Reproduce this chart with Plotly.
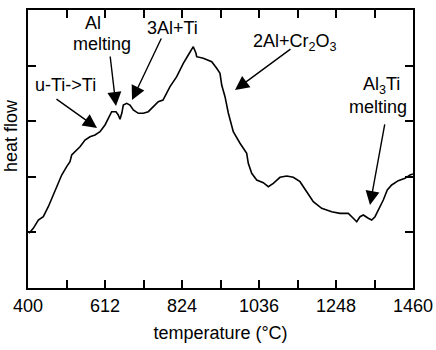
import plotly.graph_objects as go

temperature = [402.8, 414.6, 428.4, 442.1, 455.9, 465.3, 479.0, 492.8, 506.5, 515.6, 520.3, 529.4,
               543.2, 556.9, 570.7, 584.5, 598.2, 612.0, 625.8, 630.4, 642.3, 648.6, 653.3, 658.4,
               662.4, 671.7, 680.8, 689.9, 703.7, 717.4, 731.2, 745.0, 758.7, 771.7, 791.0, 809.4,
               827.6, 841.3, 855.1, 862.5, 864.4, 882.6, 896.4, 905.8, 919.5, 928.6, 933.3, 942.4,
               951.5, 965.2, 983.7, 1002.1, 1006.5, 1015.9, 1029.7, 1047.8, 1061.6, 1075.4, 1093.8,
               1112.3, 1130.4, 1148.9, 1167.3, 1185.5, 1208.6, 1236.1, 1259.0, 1281.8, 1295.6,
               1305.0, 1314.1, 1323.2, 1336.9, 1346.3, 1355.4, 1364.5, 1378.2, 1389.2, 1401.3,
               1419.5, 1437.9, 1451.7, 1460.0]
heat_flow = [0.984, 1.074, 1.223, 1.282, 1.462, 1.613, 1.822, 2.032, 2.182, 2.272, 2.392, 2.451,
             2.541, 2.662, 2.721, 2.752, 2.811, 2.932, 3.112, 3.171, 3.171, 3.112, 3.034, 3.147,
             3.291, 3.322, 3.291, 3.201, 3.142, 3.142, 3.171, 3.261, 3.351, 3.381, 3.621, 3.800,
             4.041, 4.191, 4.340, 4.221, 4.160, 4.131, 4.101, 4.070, 3.951, 3.862, 3.651, 3.441,
             3.147, 2.811, 2.603, 2.423, 2.243, 2.063, 1.942, 1.894, 1.822, 1.883, 1.991,
             2.014, 1.991, 1.912, 1.732, 1.552, 1.433, 1.372, 1.343, 1.343, 1.254,
             1.192, 1.282, 1.313, 1.254, 1.223, 1.282, 1.403, 1.583, 1.763, 1.853,
             1.930, 1.973, 2.032, 2.050]

x_tickvals = [400, 506, 612, 718, 824, 930, 1036, 1142, 1248, 1354, 1460]
x_ticktext = ["400", "", "612", "", "824", "", "1036", "", "1248", "", "1460"]
y_tickvals = [1, 2, 3, 4]

# arrows: (head_x, head_y, tail_x, tail_y)
arrows = [
    (590.0, 2.878, 474.3, 3.417),
    (642.3, 3.273, 625.8, 4.191),
    (686.3, 3.381, 768.9, 4.514),
    (969.9, 3.561, 1126.8, 4.317),
    (1341.6, 1.493, 1382.9, 2.968),
]
labels = [
    ("u-Ti->Ti", 501.9, 3.651),
    ("Al", 577.6, 4.775),
    ("melting", 602.4, 4.390),
    ("3Al+Ti", 797.8, 4.676),
    ("2Al+Cr<sub>2</sub>O<sub>3</sub>", 1135.1, 4.424),
    ("Al<sub>3</sub>Ti", 1371.9, 3.651),
    ("melting", 1363.6, 3.255),
]

FONT = "Liberation Sans, Arial, Helvetica, sans-serif"
FS = 18

fig = go.Figure()
fig.add_trace(go.Scatter(x=temperature, y=heat_flow, mode="lines",
                         line=dict(color="black", width=1.6), showlegend=False,
                         hoverinfo="skip"))

annotations = []
for hx, hy, tx, ty in arrows:
    annotations.append(dict(x=hx, y=hy, ax=tx, ay=ty, xref="x", yref="y",
                            axref="x", ayref="y", text="", showarrow=True,
                            arrowhead=2, arrowsize=2, arrowwidth=1.4,
                            arrowcolor="black", standoff=0, startstandoff=0))
for txt, lx, ly in labels:
    annotations.append(dict(x=lx, y=ly, xref="x", yref="y", text=txt,
                            showarrow=False, font=dict(family=FONT, size=FS, color="black"),
                            xanchor="center", yanchor="middle", borderpad=0))
annotations.append(dict(x=-0.044, y=0.547, xref="paper", yref="paper",
                        text="heat flow", textangle=-90, showarrow=False,
                        font=dict(family=FONT, size=FS, color="black"),
                        xanchor="center", yanchor="middle"))

fig.update_layout(
    width=436, height=350,
    margin=dict(l=28, r=23, t=10, b=62, autoexpand=False),
    paper_bgcolor="white", plot_bgcolor="white",
    font=dict(family=FONT, size=FS, color="black"),
    annotations=annotations,
    xaxis=dict(range=[400, 1460], tickvals=x_tickvals, ticktext=x_ticktext,
               ticks="inside", ticklen=8, tickwidth=1.5, tickcolor="black",
               showline=True, linecolor="black", linewidth=2, mirror="ticks",
               showgrid=False, zeroline=False, automargin=False,
               title=dict(text="temperature (°C)", standoff=12,
                          font=dict(family=FONT, size=FS, color="black")),
               tickfont=dict(family=FONT, size=FS, color="black")),
    yaxis=dict(range=[0, 5], tickvals=y_tickvals, showticklabels=False,
               ticks="inside", ticklen=8, tickwidth=1.5, tickcolor="black",
               showline=True, linecolor="black", linewidth=2, mirror="ticks",
               showgrid=False, zeroline=False, automargin=False),
)

fig.write_html("out.html")
